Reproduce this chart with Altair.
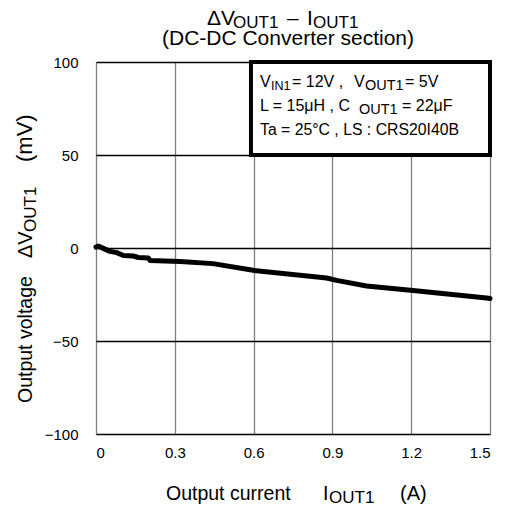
import altair as alt
import pandas as pd

# ---- data ----
current = [0.0, 0.009, 0.053, 0.079, 0.104, 0.142, 0.161, 0.199, 0.206, 0.32, 0.445,
           0.598, 0.878, 0.916, 1.03, 1.207, 1.487, 1.5]
dvout = [0.5, 1.0, -1.8, -2.5, -4.0, -4.3, -5.1, -5.4, -6.7, -7.2, -8.4,
         -12.0, -16.1, -17.4, -20.4, -22.8, -26.9, -27.2]

x_ticks = [0, 0.3, 0.6, 0.9, 1.2, 1.5]
y_ticks = [-100, -50, 0, 50, 100]

box_x = [0.59, 1.5]
box_y = [50, 100]

FONT = "Liberation Sans"
PX0, PY0 = 96, 62  # plot origin on page

df = pd.DataFrame({"I": current, "V": dvout})

xs = alt.Scale(domain=[0, 1.5], nice=False, zero=False)
ys = alt.Scale(domain=[-100, 100], nice=False)

base_axis = dict(domain=False, ticks=False, labelFont=FONT, labelFontSize=15,
                 labelColor="black", title=None)

line = alt.Chart(df).mark_line(color="black", strokeWidth=5, strokeCap="round",
                               strokeJoin="round").encode(
    x=alt.X("I:Q", scale=xs,
            axis=alt.Axis(values=x_ticks, format="~g", grid=True, gridColor="#808080",
                          gridWidth=1.3, labelPadding=11, **base_axis)),
    y=alt.Y("V:Q", scale=ys,
            axis=alt.Axis(values=y_ticks, format="d", grid=True, gridColor="black",
                          gridWidth=1.3, labelPadding=18, **base_axis)),
)

box = alt.Chart(pd.DataFrame({"x1": [box_x[0]], "x2": [box_x[1]],
                              "y1": [box_y[0]], "y2": [box_y[1]]})).mark_rect(
    fill="white", stroke="black", strokeWidth=4).encode(
    x=alt.X("x1:Q", scale=xs), x2="x2:Q",
    y=alt.Y("y1:Q", scale=ys), y2="y2:Q")

one = pd.DataFrame({"k": [0]})


def txt(s, x, y, size, angle=0, align="left"):
    return alt.Chart(one).mark_text(text=s, font=FONT, fontSize=size, color="black",
                                    align=align, baseline="alphabetic",
                                    angle=angle).encode(
        x=alt.value(x - PX0), y=alt.value(y - PY0))


texts = [
    # title
    txt("\u0394V", 207, 25, 21),
    txt("OUT1", 233, 28, 17),
    txt("\u2013", 287, 25, 21),
    txt("I", 307, 25, 21),
    txt("OUT1", 313, 28, 17),
    txt("(DC-DC Converter section)", 288, 45, 21, align="center"),
    # x title
    txt("Output current", 166, 500, 19.5),
    txt("I", 323, 500, 19.5),
    txt("OUT1", 329, 503, 17),
    txt("(A)", 400, 500, 20),
    # y title
    txt("Output voltage", 32, 403, 19.5, angle=270),
    txt("\u0394V", 32, 258, 20, angle=270),
    txt("OUT1", 36, 232, 17, angle=270),
    txt("(mV)", 32, 162, 22, angle=270),
    # annotation box
    txt("V", 260, 87, 16),
    txt("IN1", 271, 90, 12.5),
    txt("= 12V ,", 292, 87, 16),
    txt("V", 354, 87, 16),
    txt("OUT1", 365, 90, 14.5),
    txt("= 5V", 405, 87, 16),
    txt("L = 15\u03bcH , C", 260, 111, 16),
    txt("OUT1", 359, 114, 14.5),
    txt("= 22\u03bcF", 402, 111, 16),
    txt("Ta = 25\u00b0C , LS : CRS20I40B", 260, 135, 15.8),
]

chart = alt.layer(line, box, *texts).properties(
    width=394, height=372,
    autosize=alt.AutoSizeParams(type="none"),
    padding={"left": 88, "top": 54, "right": 14, "bottom": 70},
).configure_view(stroke="black", strokeWidth=4).configure(background="white")

chart.save("out.html", embed_options={"renderer": "svg", "actions": False})
